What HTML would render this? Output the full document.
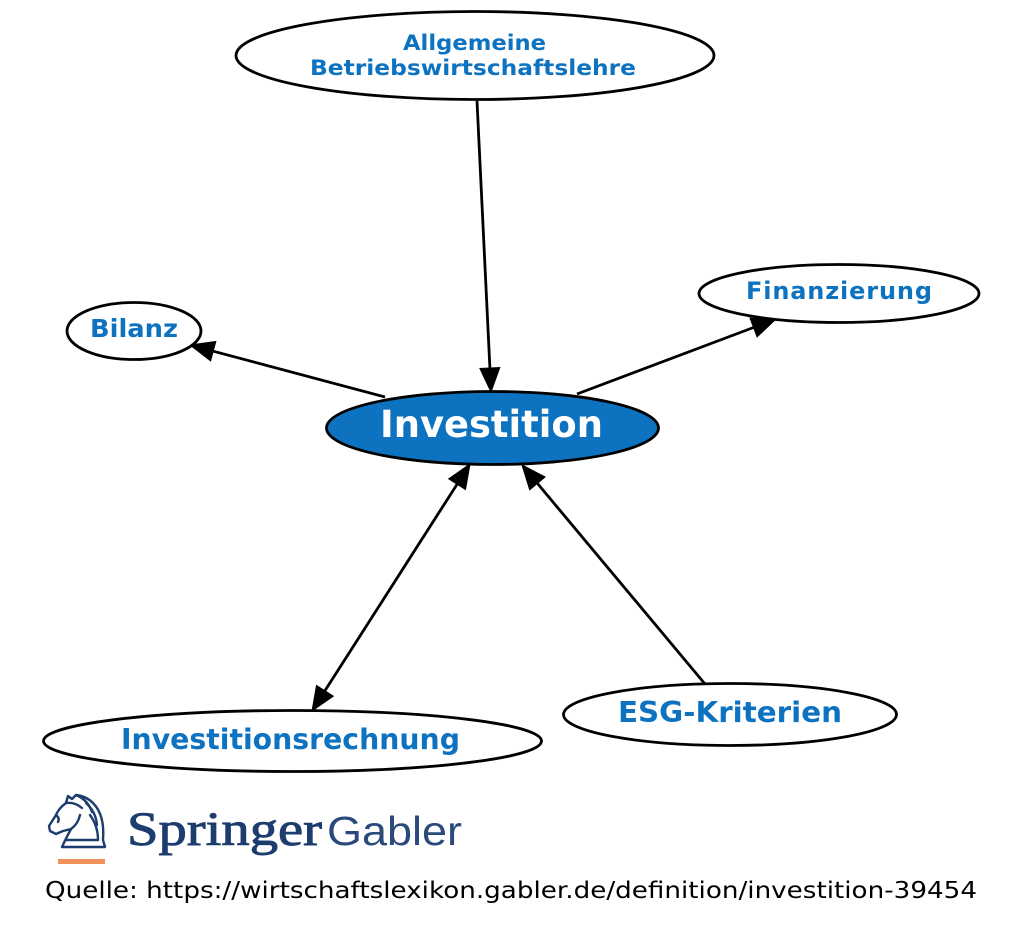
<!DOCTYPE html>
<html>
<head>
<meta charset="utf-8">
<style>
html,body{margin:0;padding:0;background:#fff;}
svg{display:block;}
.lbl{font-family:"DejaVu Sans","Liberation Sans",sans-serif;font-weight:bold;fill:#0d72bf;}
</style>
</head>
<body>
<svg width="1024" height="938" viewBox="0 0 1024 938" xmlns="http://www.w3.org/2000/svg">
  <rect width="1024" height="938" fill="#fff"/>

  <!-- Edges -->
  <g stroke="#000" stroke-width="2.8" fill="none">
    <line x1="477" y1="101" x2="489.9" y2="368"/>
    <line x1="385" y1="397" x2="213.2" y2="351.2"/>
    <line x1="577" y1="394" x2="753.5" y2="327.5"/>
    <line x1="457.1" y1="484.2" x2="324.9" y2="690.8"/>
    <line x1="705" y1="684" x2="537.4" y2="483.4"/>
  </g>
  <g fill="#000" stroke="#000" stroke-width="1">
    <polygon points="491,392 499.8,367.5 479.9,368.5"/>
    <polygon points="190,345 215.8,341.5 210.6,360.9"/>
    <polygon points="776,319 757.1,336.9 750,318.1"/>
    <polygon points="470,464 465.5,489.6 448.7,478.8"/>
    <polygon points="312,711 333.3,696.2 316.5,685.4"/>
    <polygon points="522,465 545.1,477 529.7,489.8"/>
  </g>

  <!-- Nodes -->
  <g stroke="#000" stroke-width="2.8">
    <ellipse cx="475" cy="55.5" rx="239" ry="44" fill="#fff"/>
    <ellipse cx="134" cy="331" rx="67" ry="28.5" fill="#fff"/>
    <ellipse cx="839" cy="293.5" rx="140" ry="29" fill="#fff"/>
    <ellipse cx="492.5" cy="428" rx="166" ry="36.5" fill="#0d72bf"/>
    <ellipse cx="292.5" cy="741" rx="249" ry="30.5" fill="#fff"/>
    <ellipse cx="730" cy="714.5" rx="166.5" ry="31" fill="#fff"/>
  </g>

  <!-- Labels -->
  <text class="lbl" x="474.5" y="50" font-size="21" text-anchor="middle" textLength="143" lengthAdjust="spacingAndGlyphs">Allgemeine</text>
  <text class="lbl" x="473" y="75" font-size="21" text-anchor="middle" textLength="326" lengthAdjust="spacingAndGlyphs">Betriebswirtschaftslehre</text>
  <text class="lbl" x="134" y="337" font-size="25" text-anchor="middle" textLength="88" lengthAdjust="spacingAndGlyphs">Bilanz</text>
  <text class="lbl" x="839" y="299" font-size="24" text-anchor="middle" textLength="186" lengthAdjust="spacing">Finanzierung</text>
  <text x="491.5" y="437" font-size="37" text-anchor="middle" textLength="223" lengthAdjust="spacingAndGlyphs" style="font-family:'DejaVu Sans','Liberation Sans',sans-serif;font-weight:bold;fill:#fff;">Investition</text>
  <text class="lbl" x="290.5" y="749" font-size="28.5" text-anchor="middle" textLength="339" lengthAdjust="spacingAndGlyphs">Investitionsrechnung</text>
  <text class="lbl" x="730" y="722" font-size="28.5" text-anchor="middle" textLength="224" lengthAdjust="spacingAndGlyphs">ESG-Kriterien</text>

  <!-- Logo horse -->
  <g fill="none" stroke="#1d3d6e" stroke-width="2.4" stroke-linejoin="round" stroke-linecap="round">
    <path d="M62 847 L105 847 L103 840 Q105 815 93 803 Q86 796 76 795 L72 799 L68 796 L66 803 Q59 808 56 815 L49 826 L50 831 L56 834 L63 831 L71 829 Q66 838 62 847 Z"/>
    <path d="M66 803 Q75 802 82 808"/>
    <path d="M76 795 Q88 800 92 812"/>
    <path d="M86 803 Q96 812 97 825"/>
    <path d="M90 815 Q98 826 98 840"/>
    <path d="M71 829 Q78 824 80 815"/>
    <path d="M56 815 Q60 818 58 822"/>
    <path d="M66 840 L98 840"/>
  </g>
  <rect x="58" y="859" width="47" height="5" fill="#f0925a"/>

  <text x="127" y="845" font-size="48" textLength="195" lengthAdjust="spacingAndGlyphs" stroke="#1d3d6e" stroke-width="0.9" style="font-family:'Liberation Serif','DejaVu Serif',serif;fill:#1d3d6e;">Springer</text>
  <text x="327" y="845" font-size="41" textLength="135" lengthAdjust="spacingAndGlyphs" style="font-family:'Liberation Sans','DejaVu Sans',sans-serif;fill:#2a4a7c;">Gabler</text>

  <text x="45" y="898" font-size="23.5" textLength="932" lengthAdjust="spacingAndGlyphs" style="font-family:'DejaVu Sans','Liberation Sans',sans-serif;fill:#000;">Quelle: https://wirtschaftslexikon.gabler.de/definition/investition-39454</text>
</svg>
</body>
</html>
